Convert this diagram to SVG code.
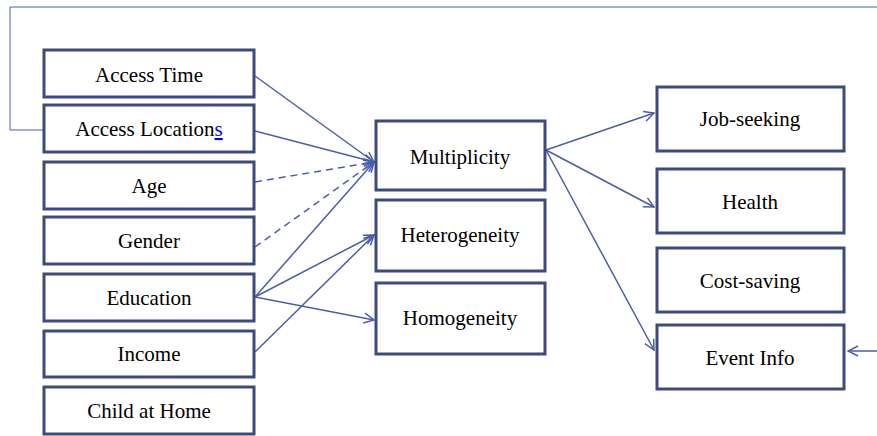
<svg xmlns="http://www.w3.org/2000/svg" width="877" height="436" viewBox="0 0 877 436">
<defs>
<marker id="arr" viewBox="0 0 12 12" refX="11" refY="6" markerWidth="12" markerHeight="12" markerUnits="userSpaceOnUse" orient="auto">
<path d="M1,1 L11,6 L1,11" fill="none" stroke="#4a5fa8" stroke-width="1.5"/>
</marker>
<style>
.box{fill:#fff;stroke:#3d4a7e;stroke-width:3}
.lbl{font-family:'Liberation Serif',serif;font-size:21px;fill:#000;text-anchor:middle}
.c{fill:none;stroke:#4a5fa8;stroke-width:1.5}
.d{stroke-dasharray:7,5}
.fb{fill:none;stroke:#4a5fa8;stroke-width:1}
</style>
</defs>
<g id="connectors">
<path class="fb" d="M877,7 H10 V130 H43"/>
<path class="c" d="M877,351 H848" marker-end="url(#arr)"/>
<path class="c" d="M255,76 L374,162" marker-end="url(#arr)"/>
<path class="c" d="M255,131 L374,162" marker-end="url(#arr)"/>
<path class="c d" d="M255,182 L374,162" marker-end="url(#arr)"/>
<path class="c d" d="M255,247 L374,162" marker-end="url(#arr)"/>
<path class="c" d="M255,297 L374,162" marker-end="url(#arr)"/>
<path class="c" d="M255,297 L374,235" marker-end="url(#arr)"/>
<path class="c" d="M255,352 L374,235" marker-end="url(#arr)"/>
<path class="c" d="M255,297 L374,320" marker-end="url(#arr)"/>
<path class="c" d="M546,150 L654,113" marker-end="url(#arr)"/>
<path class="c" d="M546,150 L654,207" marker-end="url(#arr)"/>
<path class="c" d="M546,150 L654,350" marker-end="url(#arr)"/>
</g>
<g id="access-time"><rect class="box" x="44" y="50" width="210" height="47"/><text class="lbl" style="font-family:'Liberation Serif'" x="149" y="82">Access Time</text></g>
<g id="access-locations"><rect class="box" x="44" y="105" width="210" height="47"/><text class="lbl" style="font-family:'Liberation Serif'" x="149" y="136">Access Location<tspan fill="#0000ee" text-decoration="underline">s</tspan></text></g>
<g id="age"><rect class="box" x="44" y="162" width="210" height="47"/><text class="lbl" style="font-family:'Liberation Serif'" x="149" y="193">Age</text></g>
<g id="gender"><rect class="box" x="44" y="217" width="210" height="47"/><text class="lbl" style="font-family:'Liberation Serif'" x="149" y="248">Gender</text></g>
<g id="education"><rect class="box" x="44" y="274" width="210" height="47"/><text class="lbl" style="font-family:'Liberation Serif'" x="149" y="305">Education</text></g>
<g id="income"><rect class="box" x="44" y="331" width="210" height="46"/><text class="lbl" style="font-family:'Liberation Serif'" x="149" y="361">Income</text></g>
<g id="child-at-home"><rect class="box" x="44" y="387" width="210" height="47"/><text class="lbl" style="font-family:'Liberation Serif'" x="149" y="418">Child at Home</text></g>
<g id="multiplicity"><rect class="box" x="376" y="121" width="169" height="69"/><text class="lbl" style="font-family:'Liberation Serif'" x="460" y="164">Multiplicity</text></g>
<g id="heterogeneity"><rect class="box" x="376" y="200" width="169" height="71"/><text class="lbl" style="font-family:'Liberation Serif'" x="460" y="242">Heterogeneity</text></g>
<g id="homogeneity"><rect class="box" x="376" y="283" width="169" height="71"/><text class="lbl" style="font-family:'Liberation Serif'" x="460" y="325">Homogeneity</text></g>
<g id="job-seeking"><rect class="box" x="657" y="87" width="187" height="64"/><text class="lbl" style="font-family:'Liberation Serif'" x="750" y="126">Job-seeking</text></g>
<g id="health"><rect class="box" x="657" y="169" width="187" height="64"/><text class="lbl" style="font-family:'Liberation Serif'" x="750" y="209">Health</text></g>
<g id="cost-saving"><rect class="box" x="657" y="248" width="187" height="64"/><text class="lbl" style="font-family:'Liberation Serif'" x="750" y="288">Cost-saving</text></g>
<g id="event-info"><rect class="box" x="657" y="325" width="187" height="64"/><text class="lbl" style="font-family:'Liberation Serif'" x="750" y="365">Event Info</text></g>
</svg>
